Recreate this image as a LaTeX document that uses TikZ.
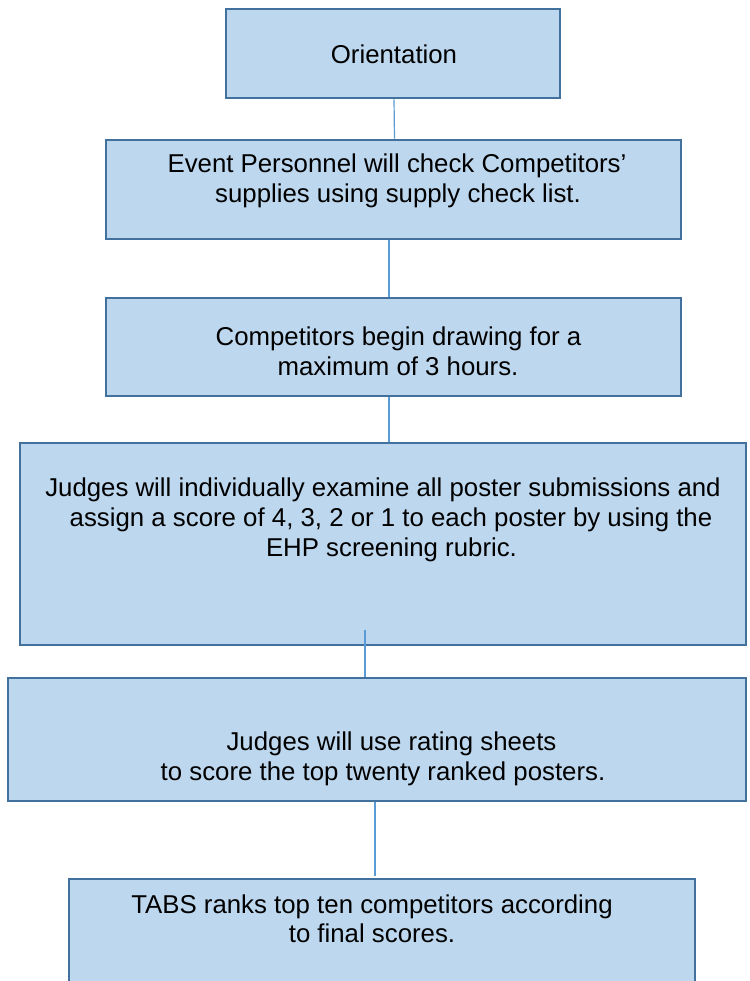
\documentclass[tikz,border=0pt]{standalone}
\usepackage{fontspec}
\setmainfont{Liberation Sans}
\definecolor{boxfill}{HTML}{BDD7EE}
\definecolor{boxline}{HTML}{41719C}
\definecolor{linkline}{HTML}{5B9BD5}
\begin{document}
\begin{tikzpicture}[x=1pt,y=-1pt,
  stepbox/.style={draw=boxline, fill=boxfill, line width=2.6pt, rectangle, inner sep=0pt},
  txt/.style={anchor=base, inner sep=0pt, font=\fontsize{25.8}{30}\selectfont},
  link/.style={draw=linkline, line width=1.2pt}]
\clip (0,0) rectangle (749,981);
\fill[white] (0,0) rectangle (749,981);
% boxes
\node[stepbox, minimum width=334pt, minimum height=89pt] (b1) at (393,53.5) {};
\node[stepbox, minimum width=575pt, minimum height=99pt] (b2) at (393.5,189.5) {};
\node[stepbox, minimum width=575pt, minimum height=98pt] (b3) at (393.5,347) {};
\node[stepbox, minimum width=726pt, minimum height=202pt] (b4) at (383,544) {};
\node[stepbox, minimum width=738pt, minimum height=123pt] (b5) at (377,739.5) {};
\node[stepbox, minimum width=626pt, minimum height=131pt] (b6) at (382,944.5) {};
% connectors
\draw[link] ([xshift=1pt]b1.south) -- ([xshift=1pt]b2.north);
\draw[link] ([xshift=-4.5pt]b2.south) -- ([xshift=-4.5pt]b3.north);
\draw[link] ([xshift=-4.5pt]b3.south) -- ([xshift=6pt]b4.north);
\draw[link] ([xshift=-18pt,yshift=16pt]b4.south) -- ([xshift=-12pt]b5.north);
\draw[link] ([xshift=-2pt]b5.south) -- ([xshift=-7pt,yshift=2pt]b6.north);
% texts
\node[txt] (t1) at (394,64) {Orientation};
\node[txt] (t2a) at (397,173) {Event Personnel will check Competitors’};
\node[txt] (t2b) at (398,203) {supplies using supply check list.};
\node[txt] (t3a) at (398.5,345) {Competitors begin drawing for a};
\node[txt] (t3b) at (398,375) {maximum of 3 hours.};
\node[txt] (t4a) at (383,496) {Judges will individually examine all poster submissions and};
\node[txt] (t4b) at (391,526) {assign a score of 4, 3, 2 or 1 to each poster by using the};
\node[txt] (t4c) at (391.5,556) {EHP screening rubric.};
\node[txt] (t5a) at (391.5,750) {Judges will use rating sheets};
\node[txt] (t5b) at (383,780) {to score the top twenty ranked posters.};
\node[txt] (t6a) at (372,913) {TABS ranks top ten competitors according};
\node[txt] (t6b) at (372,942) {to final scores.};
\end{tikzpicture}
\end{document}
